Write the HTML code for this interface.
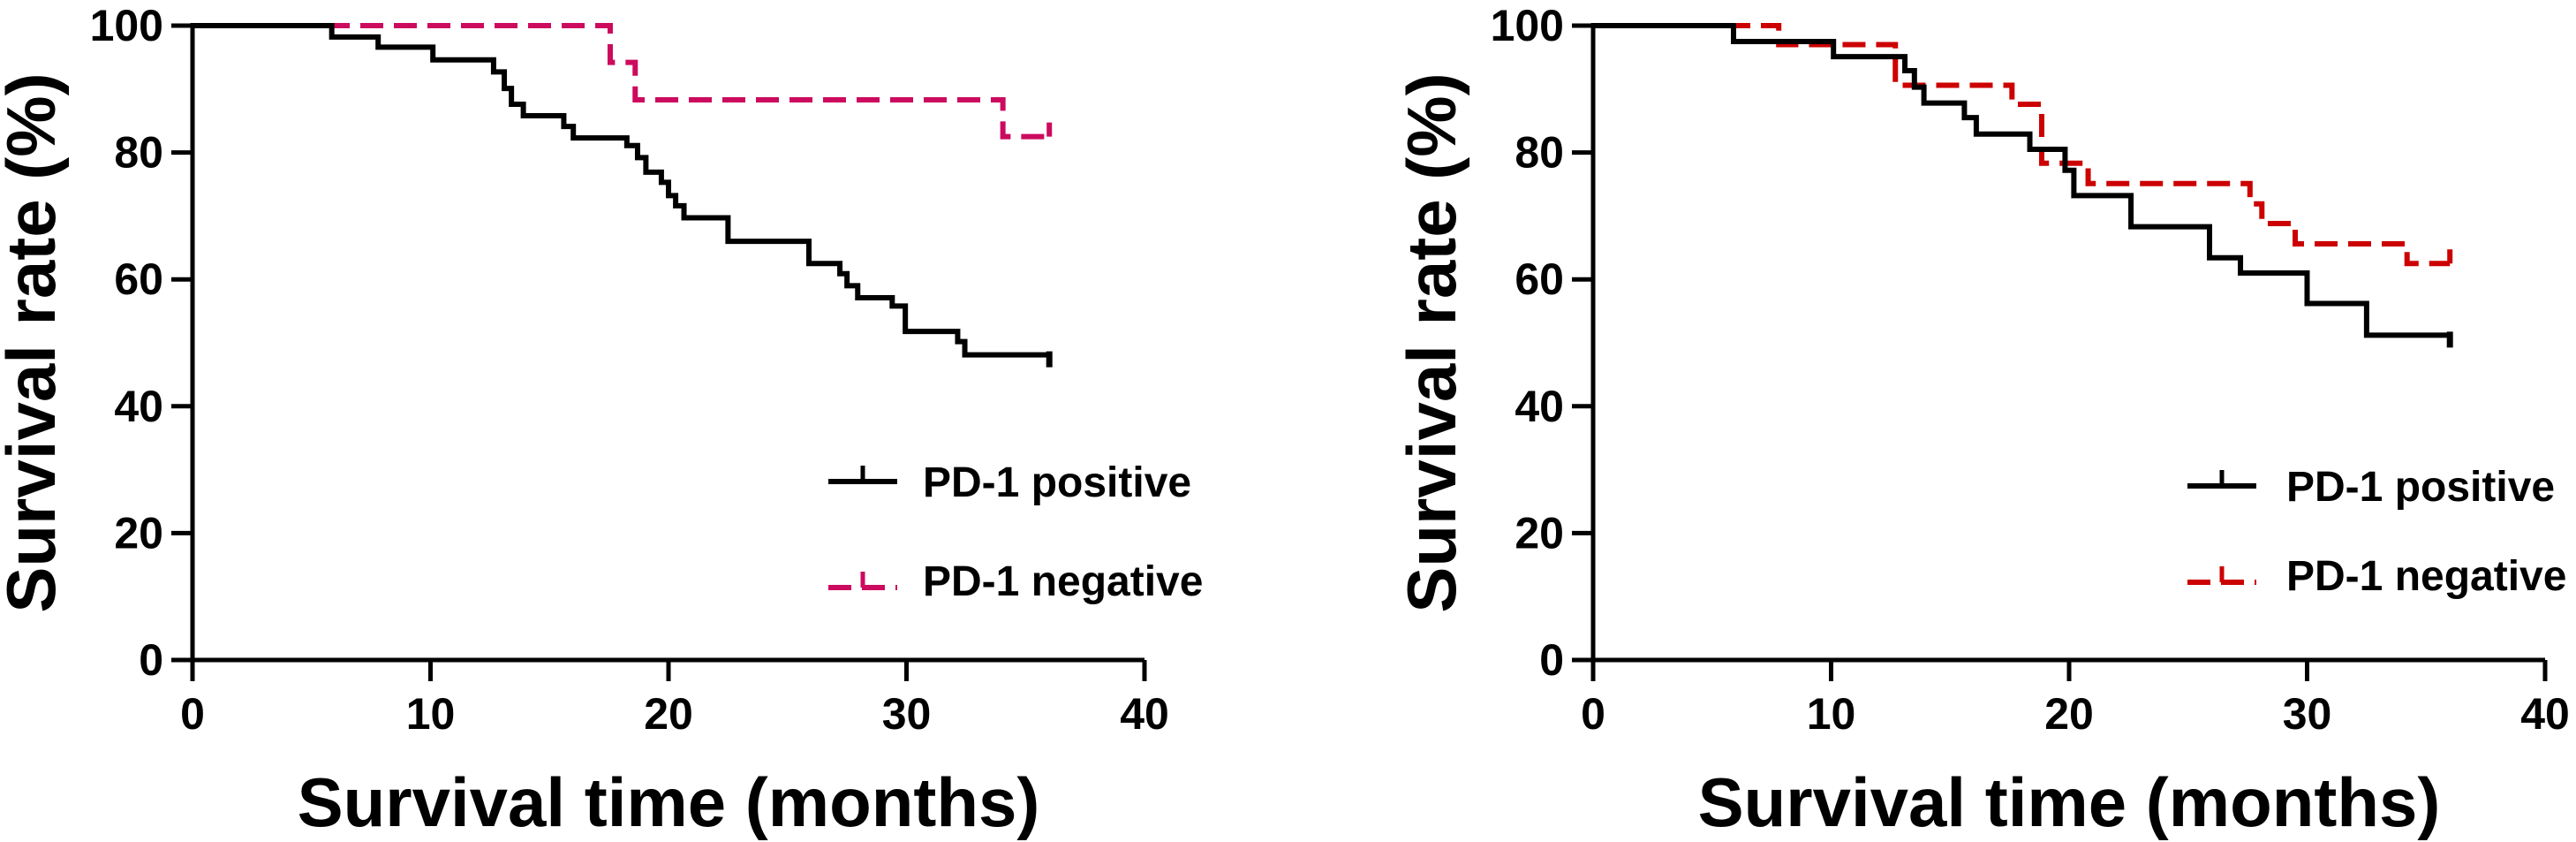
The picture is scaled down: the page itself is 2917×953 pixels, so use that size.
<!DOCTYPE html>
<html><head><meta charset="utf-8"><style>
html,body{margin:0;padding:0;background:#fff;}
svg{display:block;font-family:"Liberation Sans",Arial,sans-serif;font-weight:bold;}
</style></head><body>
<svg id="chart" width="2917" height="953" viewBox="0 0 2917 953" xmlns="http://www.w3.org/2000/svg"></svg>
<script>
const xTicks = [0, 10, 20, 30, 40];
const yTicks = [0, 20, 40, 60, 80, 100];
const seriesNames = ["PD-1 positive", "PD-1 negative"];
// left panel
const leftPosTimes = [0, 5.85, 7.8, 10.1, 12.65, 13.1, 13.4, 13.9, 15.6, 16.0, 18.25, 18.7, 19.05, 19.7, 20.0, 20.3, 20.65, 22.5, 25.9, 27.2, 27.5, 27.95, 29.4, 29.95, 32.15, 32.45];
const leftPosSurv  = [100, 98.2, 96.6, 94.6, 92.7, 90.1, 87.6, 85.8, 84.1, 82.3, 81.1, 79.2, 76.9, 75.3, 73.2, 71.6, 69.7, 66.0, 62.5, 60.9, 59.0, 57.1, 55.8, 51.8, 50.2, 48.1];
const leftNegTimes = [0, 17.55, 18.6, 34.05];
const leftNegSurv  = [100, 94.2, 88.3, 82.5];
// right panel
const rightPosTimes = [0, 5.9, 10.1, 13.1, 13.5, 13.9, 15.6, 16.1, 18.35, 19.83, 20.2, 22.6, 25.9, 27.2, 30.0, 32.5];
const rightPosSurv  = [100, 97.5, 95.1, 92.9, 90.3, 87.8, 85.5, 82.9, 80.5, 77.2, 73.2, 68.3, 63.4, 61.0, 56.2, 51.2];
const rightNegTimes = [0, 7.8, 12.7, 17.6, 18.85, 20.8, 27.6, 28.1, 29.5, 34.2];
const rightNegSurv  = [100, 97.0, 90.6, 87.6, 78.3, 75.1, 71.9, 68.8, 65.6, 62.5];
const endTime = 36;

const NS = "http://www.w3.org/2000/svg";
const svg = document.getElementById("chart");
function mk(tag, attrs, parent){
  const e = document.createElementNS(NS, tag);
  for (const k in attrs) e.setAttribute(k, attrs[k]);
  (parent || svg).appendChild(e);
  return e;
}
const Y0 = 747, Y100 = 29;
function yScale(v){ return Y0 - (Y0 - Y100) * v / 100; }

function panel(pfx, x0, negColor, posT, posS, negT, negS, legX, legTextX, legY1, legY2){
  const xScale = t => x0 + 1078 * t / 40;
  const g = mk("g", {});
  
  
  // axes
  const ax = mk("path", {d:`M${x0} ${Y100-3} V${Y0} H${x0+1078}`, stroke:"#000", "stroke-width":5, fill:"none"}, g);
  
  
  yTicks.forEach(v => {
    const y = yScale(v);
    const tk = mk("line", {x1:x0-24, x2:x0, y1:y, y2:y, stroke:"#000", "stroke-width":5}, g);
    
    
    const tx = mk("text", {x:x0-33, y:y+17, "text-anchor":"end", "font-size":50}, g);
    tx.textContent = v;
    
    
  });
  xTicks.forEach(v => {
    const x = xScale(v);
    const tk = mk("line", {x1:x, x2:x, y1:Y0, y2:Y0+24, stroke:"#000", "stroke-width":5}, g);
    
    
    const tx = mk("text", {x:x, y:825, "text-anchor":"middle", "font-size":50}, g);
    tx.textContent = v;
    
    
  });
  const xt = mk("text", {x:x0+539, y:935, "text-anchor":"middle", "font-size":78}, g);
  xt.textContent = "Survival time (months)";
  
  
  const ytx = x0 - 156;
  const yt = mk("text", {x:0, y:0, "text-anchor":"middle", "font-size":78, transform:`translate(${ytx},388) rotate(-90)`}, g);
  yt.textContent = "Survival rate (%)";
  
  

  function stepPath(T, S){
    let d = `M${xScale(T[0])} ${yScale(S[0])}`;
    for (let i = 1; i < T.length; i++){
      d += ` H${xScale(T[i])} V${yScale(S[i])}`;
    }
    d += ` H${xScale(endTime)}`;
    return d;
  }
  const neg = mk("path", {d:stepPath(negT, negS), stroke:negColor, "stroke-width":6, fill:"none", "stroke-dasharray":"26 12"}, g);
  
  
  const nc = mk("line", {x1:xScale(endTime), x2:xScale(endTime), y1:yScale(negS[negS.length-1]), y2:yScale(negS[negS.length-1])-16, stroke:negColor, "stroke-width":6}, g);
  
  
  const pos = mk("path", {d:stepPath(posT, posS), stroke:"#000", "stroke-width":6, fill:"none"}, g);
  
  
  const pc = mk("line", {x1:xScale(endTime), x2:xScale(endTime), y1:yScale(posS[posS.length-1])-4, y2:yScale(posS[posS.length-1])+14, stroke:"#000", "stroke-width":7}, g);
  
  

  // legend
  const l1 = mk("g", {}, g);
  
  
  mk("line", {x1:legX, x2:legX+78, y1:legY1, y2:legY1, stroke:"#000", "stroke-width":6}, l1);
  mk("line", {x1:legX+39, x2:legX+39, y1:legY1, y2:legY1-18, stroke:"#000", "stroke-width":5}, l1);
  const t1 = mk("text", {x:legTextX, y:legY1+17, "font-size":48}, l1);
  t1.textContent = seriesNames[0];
  const l2 = mk("g", {}, g);
  
  
  mk("line", {x1:legX, x2:legX+78, y1:legY2+8, y2:legY2+8, stroke:negColor, "stroke-width":6, "stroke-dasharray":"26 12"}, l2);
  mk("line", {x1:legX+39, x2:legX+39, y1:legY2+8, y2:legY2-10, stroke:negColor, "stroke-width":5}, l2);
  const t2 = mk("text", {x:legTextX, y:legY2+17, "font-size":48}, l2);
  t2.textContent = seriesNames[1];
}
panel("left", 218, "#cc0a5e", leftPosTimes, leftPosSurv, leftNegTimes, leftNegSurv, 938, 1045, 545, 657);
panel("right", 1804, "#cc0000", rightPosTimes, rightPosSurv, rightNegTimes, rightNegSurv, 2477, 2589, 550, 651);
</script>
</body></html>
